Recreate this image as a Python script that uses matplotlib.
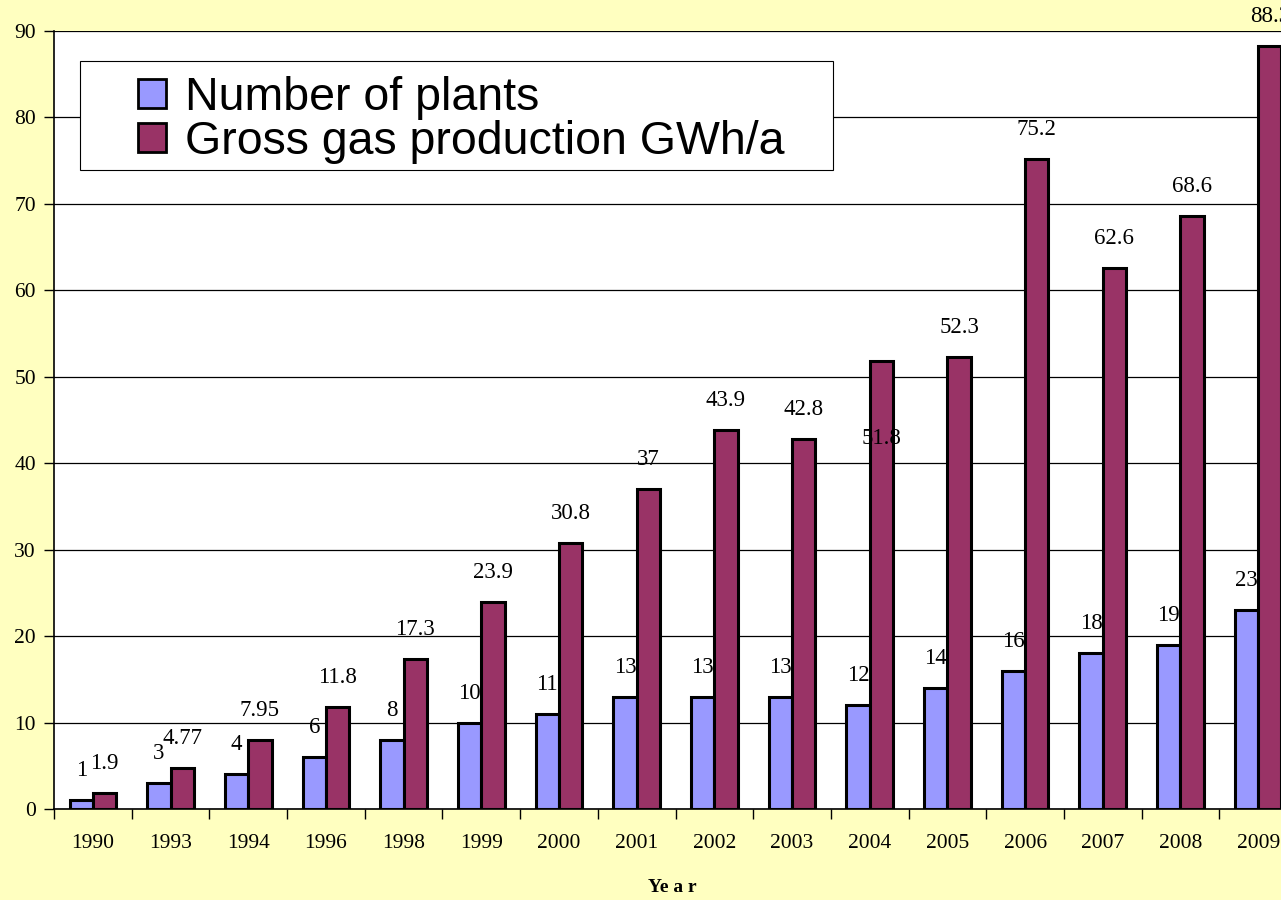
import numpy as np
import matplotlib
matplotlib.use("Agg")
import matplotlib.pyplot as plt
from matplotlib.patches import Rectangle

years = ["1990", "1993", "1994", "1996", "1998", "1999", "2000", "2001",
         "2002", "2003", "2004", "2005", "2006", "2007", "2008", "2009"]
plants = [1, 3, 4, 6, 8, 10, 11, 13, 13, 13, 12, 14, 16, 18, 19, 23]
gas = [1.9, 4.77, 7.95, 11.8, 17.3, 23.9, 30.8, 37, 43.9, 42.8,
       51.8, 52.3, 75.2, 62.6, 68.6, 88.3]
gas_labels = ["1.9", "4.77", "7.95", "11.8", "17.3", "23.9", "30.8", "37",
              "43.9", "42.8", "51.8", "52.3", "75.2", "62.6", "68.6", "88.3"]

bg = "#FFFFC0"
blue = "#9999FF"
maroon = "#993366"
serif = "Liberation Serif"

fig = plt.figure(figsize=(12.81, 9.0), dpi=100, facecolor=bg)
# plot area runs past the right edge, like the original
ax = fig.add_axes([54 / 1281, 91 / 900, 1243 / 1281, 778 / 900])
ax.set_facecolor("white")

x = np.arange(len(years))
w = 0.3
b1 = ax.bar(x - w / 2, plants, w, color=blue, edgecolor="black", linewidth=2.2,
            label="Number of plants", zorder=3)
b2 = ax.bar(x + w / 2, gas, w, color=maroon, edgecolor="black", linewidth=2.2,
            label="Gross gas production GWh/a", zorder=3)

for i in range(len(years)):
    ax.annotate(str(plants[i]), (x[i] - w / 2, plants[i]), xytext=(0, 19),
                textcoords="offset pixels", ha="center", va="bottom",
                fontsize=16.5, family=serif, zorder=4)
    dy = 19
    if years[i] == "2004":
        dy = -88  # excel dropped this label onto the bar
    ax.annotate(gas_labels[i], (x[i] + w / 2, gas[i]), xytext=(0, dy),
                textcoords="offset pixels", ha="center", va="bottom",
                fontsize=16.5, family=serif, zorder=4, annotation_clip=False)

ax.set_xlim(-0.5, len(years) - 0.5)
ax.set_ylim(0, 90)
ax.set_yticks(np.arange(0, 91, 10))
ax.yaxis.grid(True, color="black", linewidth=0.9)
ax.set_axisbelow(True)

ax.set_xticks(x)
ax.set_xticklabels(years, family=serif, fontsize=15.5)
ax.set_xticks(np.arange(-0.5, len(years), 1), minor=True)
ax.tick_params(axis="x", which="major", length=0, pad=18)
ax.tick_params(axis="x", which="minor", length=7, width=1)
ax.tick_params(axis="y", length=7, width=1, pad=6)
for lbl in ax.get_yticklabels():
    lbl.set_family(serif)
    lbl.set_fontsize(15.5)

for s in ["top", "right"]:
    ax.spines[s].set_visible(False)
ax.spines["left"].set_linewidth(1.2)
ax.spines["bottom"].set_linewidth(1.2)

# legend box drawn by hand, the entries sit well inside it
fig.patches.append(Rectangle((80 / 1281, 1 - 170 / 900), 753 / 1281, 109 / 900,
                             transform=fig.transFigure, facecolor="white",
                             edgecolor="black", linewidth=0.8, zorder=5))
leg = fig.legend(handles=[b1, b2], loc="upper left",
                 bbox_to_anchor=(138 / 1281, 1 - 76 / 900),
                 prop={"family": "Liberation Sans", "size": 33.5},
                 frameon=False, borderpad=0, handlelength=0.6, handleheight=0.6,
                 handletextpad=0.4, labelspacing=0.0, borderaxespad=0)
leg.set_zorder(6)
for h in leg.legend_handles:
    h.set_linewidth(2)

fig.text(672 / 1281, 1 - 887 / 900, "Ye a r", ha="center", va="center",
         family=serif, fontweight="bold", fontsize=14)

fig.savefig("out.png", dpi=100, facecolor=bg)
